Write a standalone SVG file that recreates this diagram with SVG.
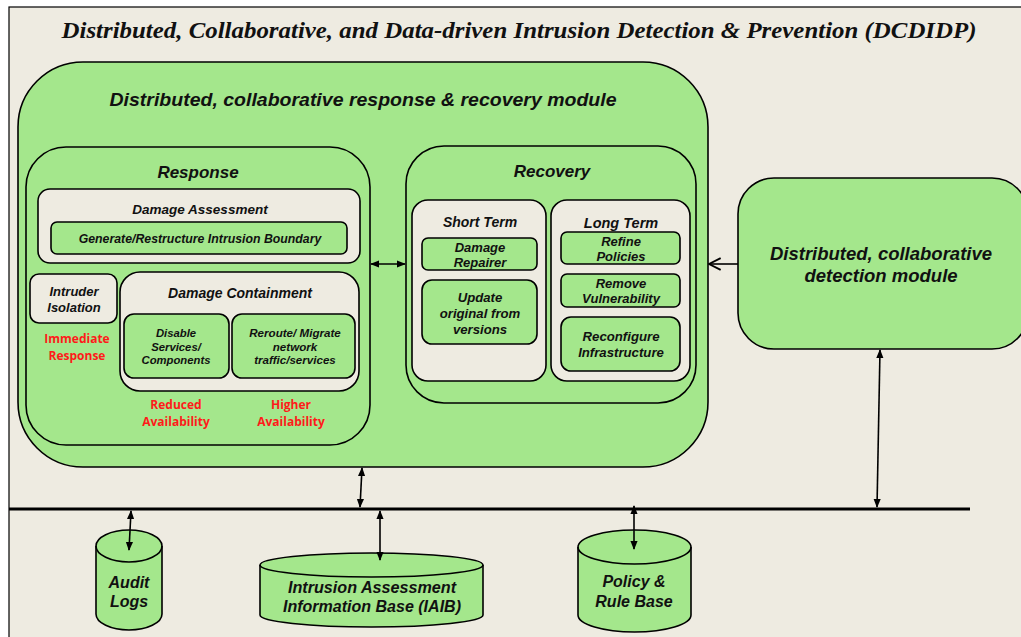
<svg xmlns="http://www.w3.org/2000/svg" width="1021" height="637" viewBox="0 0 1021 637">
<defs>
<marker id="ah" viewBox="0 0 10 10" refX="9" refY="5" markerWidth="9" markerHeight="9" markerUnits="userSpaceOnUse" orient="auto-start-reverse"><path d="M0,1 L10,5 L0,9 Z" fill="#000"/></marker>
<marker id="oh" viewBox="0 0 12 12" refX="11" refY="6" markerWidth="14" markerHeight="14" markerUnits="userSpaceOnUse" orient="auto"><path d="M1,1 L11,6 L1,11" fill="none" stroke="#000" stroke-width="1.6"/></marker>
<style>
.g{fill:#A4E78C;stroke:#000;stroke-width:1.6}
.b{fill:#EEEBE1;stroke:#000;stroke-width:1.6}
.t{font-family:"Liberation Sans",Arial,sans-serif;font-weight:bold;font-style:italic;fill:#111;text-anchor:middle}
.r{font-family:"Open Sans","Liberation Sans",sans-serif;font-weight:bold;fill:#FF1A1A;text-anchor:middle;font-size:12px}
.n{font-family:"Liberation Sans Narrow","Liberation Sans",Arial,sans-serif;font-weight:bold;font-style:italic;fill:#111;text-anchor:middle;font-size:16px}
.c{stroke:#000;stroke-width:1.6;fill:none}
</style>
</defs>
<rect x="0" y="0" width="1021" height="637" fill="#fff"/>
<rect x="9" y="7" width="1030" height="640" fill="#EEEBE1" stroke="#000" stroke-width="1.2"/>
<text x="519" y="38" font-family="'Liberation Serif','Times New Roman',serif" font-weight="bold" font-style="italic" font-size="24" text-anchor="middle" textLength="915" lengthAdjust="spacingAndGlyphs" fill="#111">Distributed, Collaborative, and Data-driven Intrusion Detection &amp; Prevention (DCDIDP)</text>

<g id="module-rr">
<rect class="g" x="18" y="62" width="690" height="405" rx="65" stroke-width="2"/>
<text class="t" x="363" y="106" font-size="19" textLength="507" lengthAdjust="spacingAndGlyphs">Distributed, collaborative response &amp; recovery module</text>
</g>

<g id="response">
<rect class="g" x="26" y="147" width="344" height="298" rx="40"/>
<text class="t" x="198" y="178" font-size="17">Response</text>
</g>
<g id="damage-assessment">
<rect class="b" x="38" y="189" width="322" height="74" rx="12"/>
<text class="t" x="200" y="214" font-size="13.5">Damage Assessment</text>
</g>
<g id="generate-boundary">
<rect class="g" x="51" y="222" width="296" height="32" rx="6"/>
<text class="t" x="200" y="243" font-size="12.3">Generate/Restructure Intrusion Boundary</text>
</g>
<g id="intruder-isolation">
<rect class="b" x="30" y="274" width="87" height="49" rx="9"/>
<text class="t" x="74" y="296" font-size="13">Intruder</text>
<text class="t" x="74" y="312" font-size="13">Isolation</text>
</g>
<text class="r" x="77" y="343">Immediate</text>
<text class="r" x="77" y="360">Response</text>
<g id="damage-containment">
<rect class="b" x="120" y="272" width="239" height="119" rx="20"/>
<text class="t" x="240" y="298" font-size="14">Damage Containment</text>
</g>
<g id="disable-services">
<rect class="g" x="124" y="314" width="105" height="64" rx="10"/>
<text class="t" x="176" y="337" font-size="11.3">Disable</text>
<text class="t" x="176" y="351" font-size="11.3">Services/</text>
<text class="t" x="176" y="364" font-size="11.3">Components</text>
</g>
<g id="reroute">
<rect class="g" x="232" y="314" width="123" height="64" rx="10"/>
<text class="t" x="295" y="337" font-size="11.6">Reroute/ Migrate</text>
<text class="t" x="295" y="351" font-size="11.6">network</text>
<text class="t" x="295" y="364" font-size="11.6">traffic/services</text>
</g>
<text class="r" x="176" y="409">Reduced</text>
<text class="r" x="176" y="426">Availability</text>
<text class="r" x="291" y="409">Higher</text>
<text class="r" x="291" y="426">Availability</text>

<g id="recovery">
<rect class="g" x="406" y="146" width="290" height="257" rx="38"/>
<text class="t" x="552" y="177" font-size="17">Recovery</text>
</g>
<g id="short-term">
<rect class="b" x="412" y="200" width="134" height="181" rx="16"/>
<text class="t" x="480" y="227" font-size="14">Short Term</text>
</g>
<g id="damage-repairer">
<rect class="g" x="422" y="238" width="115" height="32" rx="6"/>
<text class="t" x="480" y="252" font-size="13">Damage</text>
<text class="t" x="480" y="267" font-size="13">Repairer</text>
</g>
<g id="update-original">
<rect class="g" x="422" y="280" width="115" height="64" rx="10"/>
<text class="t" x="480" y="302" font-size="13.2">Update</text>
<text class="t" x="480" y="318" font-size="13.2">original from</text>
<text class="t" x="480" y="334" font-size="13.2">versions</text>
</g>
<g id="long-term">
<rect class="b" x="551" y="200" width="139" height="181" rx="16"/>
<text class="t" x="621" y="228" font-size="14.5">Long Term</text>
</g>
<g id="refine-policies">
<rect class="g" x="561" y="232" width="119" height="32" rx="6"/>
<text class="t" x="621" y="246" font-size="13">Refine</text>
<text class="t" x="621" y="261" font-size="13">Policies</text>
</g>
<g id="remove-vulnerability">
<rect class="g" x="561" y="274" width="119" height="33" rx="6"/>
<text class="t" x="621" y="288" font-size="13">Remove</text>
<text class="t" x="621" y="303" font-size="13">Vulnerability</text>
</g>
<g id="reconfigure-infrastructure">
<rect class="g" x="561" y="317" width="119" height="54" rx="10"/>
<text class="t" x="621" y="341" font-size="13.2">Reconfigure</text>
<text class="t" x="621" y="357" font-size="13.2">Infrastructure</text>
</g>

<g id="detection-module">
<rect class="g" x="738" y="178" width="290" height="171" rx="36"/>
<text class="t" x="881" y="260" font-size="18.5">Distributed, collaborative</text>
<text class="t" x="881" y="282" font-size="18.5">detection module</text>
</g>

<g id="audit-logs">
<path class="g" d="M96,546 A33,16 0 0 1 162,546 L162,614 A33,16 0 0 1 96,614 Z"/>
<path class="c" d="M96,546 A33,16 0 0 0 162,546"/>
<text class="n" x="129" y="588">Audit</text>
<text class="n" x="129" y="607">Logs</text>
</g>
<g id="iaib">
<path class="g" d="M260,565 A111.5,12 0 0 1 483,565 L483,615 A111.5,12 0 0 1 260,615 Z"/>
<path class="c" d="M260,565 A111.5,12 0 0 0 483,565"/>
<text class="n" x="372" y="593" textLength="168" lengthAdjust="spacingAndGlyphs">Intrusion Assessment</text>
<text class="n" x="372" y="612" textLength="178" lengthAdjust="spacingAndGlyphs">Information Base (IAIB)</text>
</g>
<g id="policy-rule-base">
<path class="g" d="M578,547 A56.5,17 0 0 1 691,547 L691,615 A56.5,17 0 0 1 578,615 Z"/>
<path class="c" d="M578,547 A56.5,17 0 0 0 691,547"/>
<text class="n" x="634" y="587">Policy &amp;</text>
<text class="n" x="634" y="607">Rule Base</text>
</g>

<g id="connectors">
<line x1="9" y1="509" x2="970" y2="509" stroke="#000" stroke-width="3"/>
<line class="c" x1="371" y1="264" x2="405" y2="264" marker-start="url(#ah)" marker-end="url(#ah)"/>
<line class="c" x1="738" y1="264" x2="709" y2="264" marker-end="url(#oh)"/>
<line class="c" x1="362" y1="468" x2="360" y2="507" marker-start="url(#ah)" marker-end="url(#ah)"/>
<line class="c" x1="880" y1="350" x2="877" y2="507" marker-start="url(#ah)" marker-end="url(#ah)"/>
<line class="c" x1="131" y1="511" x2="129" y2="550" marker-start="url(#ah)" marker-end="url(#ah)"/>
<line class="c" x1="380" y1="511" x2="380" y2="560" marker-start="url(#ah)" marker-end="url(#ah)"/>
<line class="c" x1="634" y1="506" x2="634" y2="549" marker-start="url(#ah)" marker-end="url(#ah)"/>
</g>
</svg>
